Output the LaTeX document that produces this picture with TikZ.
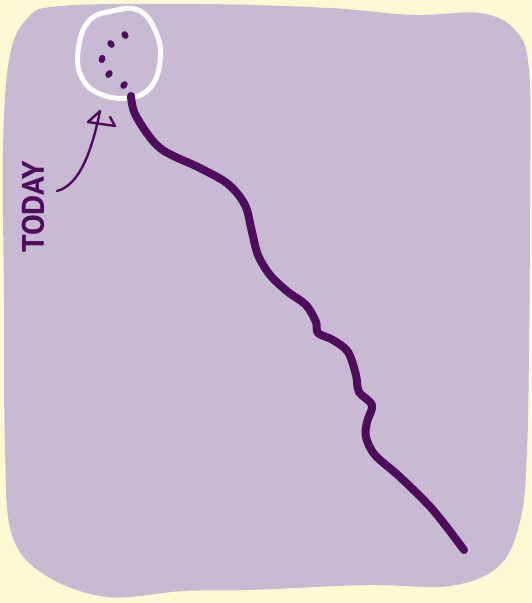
\documentclass[tikz,border=0pt]{standalone}
\usepackage{fontspec}
\newfontfamily\handfont{PT Sans}
\definecolor{cream}{HTML}{FEF9D3}
\definecolor{lav}{HTML}{C8BAD2}
\definecolor{plum}{HTML}{4F0B5C}
\begin{document}
\begin{tikzpicture}[x=1pt,y=-1pt,
  trail/.style={draw=plum,line width=8pt,line cap=round,line join=round},
  ring/.style={draw=white,line width=5pt},
  dotmark/.style={fill=plum},
  pointer/.style={draw=plum,line width=2.4pt,line cap=round,line join=round}]
\useasboundingbox (0,0) rectangle (531,603);
\fill[cream] (0,0) rectangle (531,603);
% blob
\fill[lav] plot[smooth cycle,tension=0.6] coordinates {
 (60,6) (200,4) (330,8) (413,15) (480,13) (515,30) (529,70) (530,200)
 (529,350) (527,450) (521,517) (500,565) (450,586) (367,585) (250,590)
 (183,591) (107,597) (45,575) (12,535) (5,450) (4,300) (3,150) (9,60) (26,20)};
% white circle
\draw[ring] plot[smooth cycle,tension=0.7] coordinates {
 (78,52) (88,22) (112,11) (140,11) (157,35) (160,62) (150,88) (128,98) (100,94) (82,78)};
% dots
\foreach \p/\a in {(125,35)/30,(111,44)/40,(102,59)/-10,(109,74)/-40,(124,85)/-40}
  \fill[plum,rotate around={\a:\p}] \p ellipse (3.3 and 4.2);
% trail
\coordinate (start) at (131,96);
\coordinate (finish) at (464,550);
\draw[trail] plot[smooth,tension=0.55] coordinates {
 (start) (136,116) (160,148) (200,168) (228,184) (245,205) (252,232) (258,255)
 (270,275) (288,292) (306,305) (316,322) (318,333) (333,340) (348,352) (356,375)
 (359,392) (372,405) (367,422) (366,437) (375,455) (400,477) (433,510) (finish)};
% label
\node[text=plum,rotate=90,font=\handfont\bfseries\fontsize{31}{31}\selectfont,inner sep=0pt] (today) at (33,207) {TODAY};
% arrow
\coordinate (tail) at (57,191);
\coordinate (tip) at (100,111);
\draw[pointer] (tail) .. controls (80,185) and (92,150) .. (tip);
\draw[pointer] (88,122) -- (tip);
\draw[pointer] (88,122) -- (115,126) -- (110,117);
\end{tikzpicture}
\end{document}
